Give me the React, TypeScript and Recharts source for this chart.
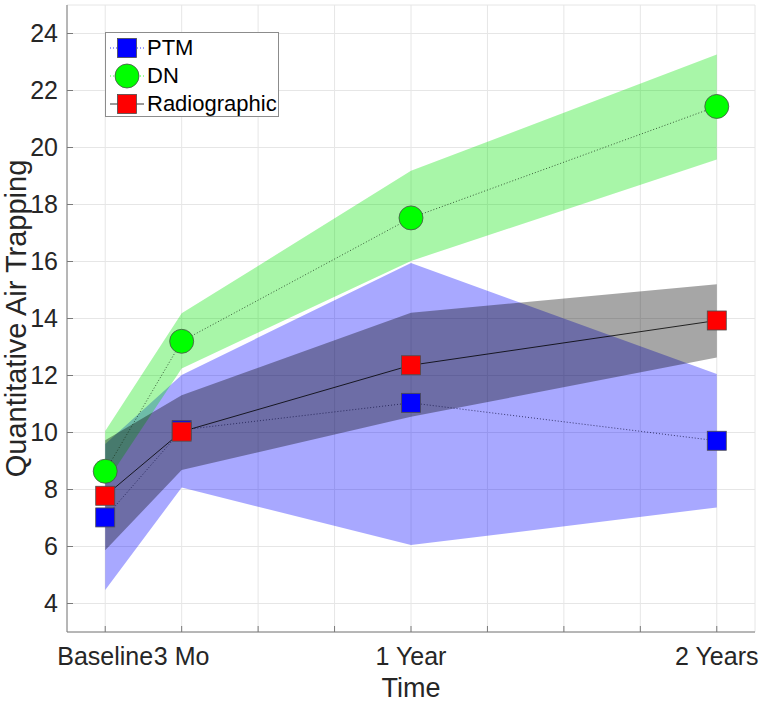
import { ComposedChart, Area, Line, XAxis, YAxis, CartesianGrid, Label } from 'recharts';

// months since baseline
const TIMES = [0, 3, 12, 24];
const TIME_LABELS = ['Baseline', '3 Mo', '1 Year', '2 Years'];
const X_TICKS = [0, 3, 6, 9, 12, 15, 18, 21, 24];
const Y_TICKS = [4, 6, 8, 10, 12, 14, 16, 18, 20, 22, 24];

const PTM_MEAN = [7.02, 10.09, 11.04, 9.71];
const PTM_LOW = [4.47, 8.07, 6.05, 7.37];
const PTM_HIGH = [9.6, 12.02, 15.95, 12.05];

const DN_MEAN = [8.64, 13.2, 17.53, 21.44];
const DN_LOW = [8.2, 12.25, 16.02, 19.58];
const DN_HIGH = [10.05, 14.18, 19.18, 23.26];

const RAD_MEAN = [7.78, 10.03, 12.36, 13.93];
const RAD_LOW = [5.87, 8.68, 10.55, 12.63];
const RAD_HIGH = [9.73, 11.31, 14.2, 15.2];

const data = TIMES.map((t, i) => ({
  t,
  ptm: PTM_MEAN[i],
  ptmBand: [PTM_LOW[i], PTM_HIGH[i]],
  dn: DN_MEAN[i],
  dnBand: [DN_LOW[i], DN_HIGH[i]],
  rad: RAD_MEAN[i],
  radBand: [RAD_LOW[i], RAD_HIGH[i]],
}));

const FONT = '"Liberation Sans", Arial, Helvetica, sans-serif';
const TEXT = '#262626';
const AXIS = '#7a7a7a';

const squareDot = (fill: string) => (p: any) => (
  <rect key={`sq-${fill}-${p.index}`} x={p.cx - 9.5} y={p.cy - 9.5} width={19} height={19}
    fill={fill} stroke="#4d4d4d" strokeWidth={0.8} />
);
const circleDot = (p: any) => (
  <circle key={`ci-${p.index}`} cx={p.cx} cy={p.cy} r={12} fill="#00ff00" stroke="#4d4d4d" strokeWidth={0.8} />
);

const XTick = (props: any) => {
  const { x, y, payload } = props;
  const idx = TIMES.indexOf(payload.value);
  return (
    <g>
      <line x1={x} x2={x} y1={y} y2={y - 6} stroke={AXIS} />
      {idx >= 0 && (
        <text x={x} y={y + 33} textAnchor="middle" fontSize={25} fill={TEXT} fontFamily={FONT}>
          {TIME_LABELS[idx]}
        </text>
      )}
    </g>
  );
};

const YTick = (props: any) => {
  const { x, y, payload } = props;
  return (
    <g>
      <line x1={x} x2={x + 6} y1={y} y2={y} stroke={AXIS} />
      <text x={x - 9} y={y} dy="0.35em" textAnchor="end" fontSize={25} fill={TEXT} fontFamily={FONT}>
        {payload.value}
      </text>
    </g>
  );
};

const LegendBox = () => {
  const rows = [
    { name: 'PTM', kind: 'sq', color: '#0000ff', line: '#0000ff', dash: '1 2' },
    { name: 'DN', kind: 'ci', color: '#00ff00', line: '#00ff00', dash: '1 2' },
    { name: 'Radiographic', kind: 'sq', color: '#ff0000', line: '#000000', dash: undefined },
  ];
  return (
    <div style={{
      position: 'absolute', left: 105, top: 32, width: 174, height: 85, boxSizing: 'border-box',
      border: '1px solid #8c8c8c', background: '#fff', fontFamily: FONT, fontSize: 22, color: '#000',
    }}>
      {rows.map((r, i) => (
        <div key={r.name} style={{ position: 'absolute', left: 0, top: 1 + i * 28, height: 28, display: 'flex', alignItems: 'center' }}>
          <svg width={40} height={28} style={{ display: 'block' }}>
            <line x1={4} x2={38} y1={14} y2={14} stroke={r.line} strokeWidth={0.8} strokeDasharray={r.dash} />
            {r.kind === 'sq'
              ? <rect x={11.5} y={4.5} width={19} height={19} fill={r.color} stroke="#4d4d4d" strokeWidth={0.8} />
              : <circle cx={21} cy={14} r={12} fill={r.color} stroke="#4d4d4d" strokeWidth={0.8} />}
          </svg>
          <span style={{ marginLeft: 1, lineHeight: '28px' }}>{r.name}</span>
        </div>
      ))}
    </div>
  );
};

const App = () => {
  return (
    <div style={{ position: 'absolute', left: 0, top: 0, width: 762, height: 702, background: '#fff' }}>
      <ComposedChart width={762} height={702} data={data} margin={{ top: 5, right: 7, left: 0, bottom: 0 }}>
        <CartesianGrid stroke="#e6e6e6" strokeWidth={1} />
        <XAxis dataKey="t" type="number" domain={[-1.5, 25.5]} ticks={X_TICKS} interval={0}
          allowDataOverflow height={70} tickSize={0} tickMargin={0} tickLine={false}
          axisLine={{ stroke: AXIS }} tick={<XTick />}>
          <Label content={(p: any) => {
            const vb = p.viewBox;
            return (
              <text x={vb.x + vb.width / 2} y={vb.y + vb.height - 5} textAnchor="middle"
                fontSize={27} fill={TEXT} fontFamily={FONT}>Time</text>
            );
          }} />
        </XAxis>
        <YAxis type="number" domain={[3, 25]} ticks={Y_TICKS} interval={0} allowDataOverflow width={67}
          tickSize={0} tickMargin={0} tickLine={false} axisLine={{ stroke: AXIS }} tick={<YTick />}>
          <Label content={(p: any) => {
            const vb = p.viewBox;
            const cx = 26;
            const cy = vb.y + vb.height / 2;
            return (
              <text x={cx} y={cy} transform={`rotate(-90, ${cx}, ${cy})`} textAnchor="middle"
                fontSize={29} fill={TEXT} fontFamily={FONT}>Quantitative Air Trapping</text>
            );
          }} />
        </YAxis>

        <Area dataKey="ptmBand" type="linear" stroke="none" fill="#0000ff" fillOpacity={0.34} isAnimationActive={false} activeDot={false} />
        <Area dataKey="dnBand" type="linear" stroke="none" fill="#00e600" fillOpacity={0.34} isAnimationActive={false} activeDot={false} />
        <Area dataKey="radBand" type="linear" stroke="none" fill="#000000" fillOpacity={0.35} isAnimationActive={false} activeDot={false} />

        <Line dataKey="ptm" type="linear" stroke="#1a1a4d" strokeWidth={0.8} strokeDasharray="1 2"
          dot={squareDot('#0000ff')} activeDot={false} isAnimationActive={false} />
        <Line dataKey="dn" type="linear" stroke="#1a331a" strokeWidth={0.8} strokeDasharray="1 2"
          dot={circleDot} activeDot={false} isAnimationActive={false} />
        <Line dataKey="rad" type="linear" stroke="#000000" strokeWidth={0.8}
          dot={squareDot('#ff0000')} activeDot={false} isAnimationActive={false} />
      </ComposedChart>
      <LegendBox />
    </div>
  );
};

export default App;
